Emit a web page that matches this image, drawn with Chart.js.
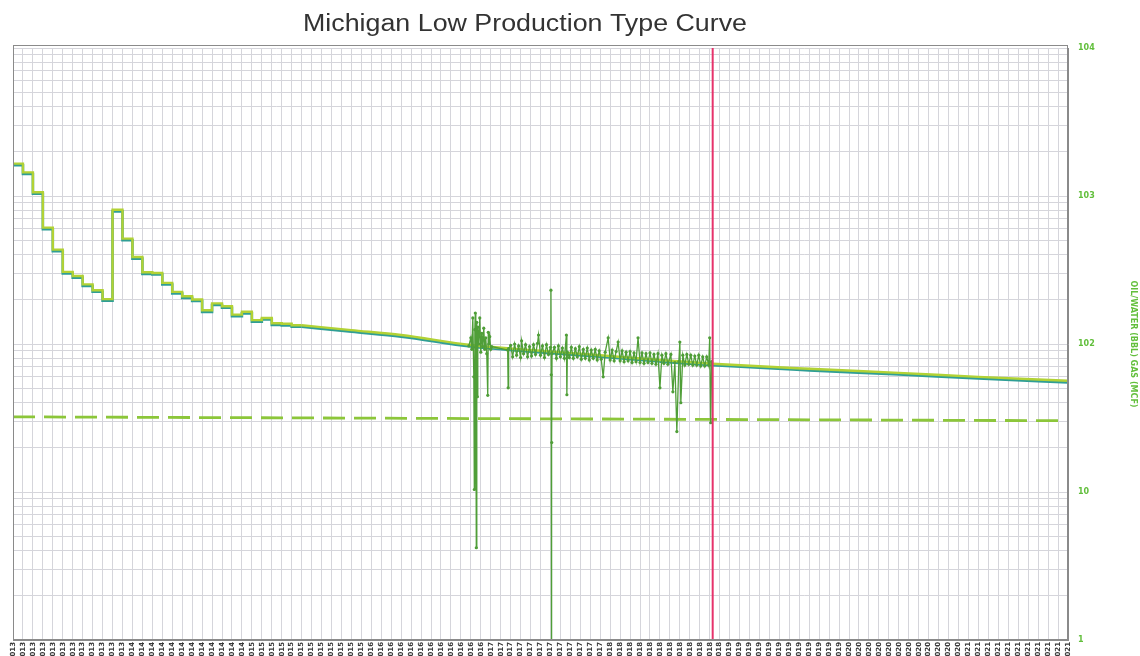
<!DOCTYPE html>
<html>
<head>
<meta charset="utf-8">
<style>
  html, body { margin: 0; padding: 0; background: #ffffff; }
  #wrap { width: 1140px; height: 656px; }
</style>
<script src="https://cdn.jsdelivr.net/npm/chart.js@4/dist/chart.umd.min.js"></script>
</head>
<body>
<div id="wrap"><canvas id="chart" width="1140" height="656"></canvas></div>
<script>
// Month tick labels (one per monthly gridline)
const monthLabels = [
  "01/2013","02/2013","03/2013","04/2013","05/2013","06/2013","07/2013","08/2013","09/2013","10/2013","11/2013","12/2013",
  "01/2014","02/2014","03/2014","04/2014","05/2014","06/2014","07/2014","08/2014","09/2014","10/2014","11/2014","12/2014",
  "01/2015","02/2015","03/2015","04/2015","05/2015","06/2015","07/2015","08/2015","09/2015","10/2015","11/2015","12/2015",
  "01/2016","02/2016","03/2016","04/2016","05/2016","06/2016","07/2016","08/2016","09/2016","10/2016","11/2016","12/2016",
  "01/2017","02/2017","03/2017","04/2017","05/2017","06/2017","07/2017","08/2017","09/2017","10/2017","11/2017","12/2017",
  "01/2018","02/2018","03/2018","04/2018","05/2018","06/2018","07/2018","08/2018","09/2018","10/2018","11/2018","12/2018",
  "01/2019","02/2019","03/2019","04/2019","05/2019","06/2019","07/2019","08/2019","09/2019","10/2019","11/2019","12/2019",
  "01/2020","02/2020","03/2020","04/2020","05/2020","06/2020","07/2020","08/2020","09/2020","10/2020","11/2020","12/2020",
  "01/2021","02/2021","03/2021","04/2021","05/2021","06/2021","07/2021","08/2021","09/2021","10/2021","11/2021"
];
const monthTicks = [
  0,1,2,3,4,5,6,7,8,9,10,11,12,13,14,15,16,17,18,19,20,21,22,23,24,25,26,27,28,29,
  30,31,32,33,34,35,36,37,38,39,40,41,42,43,44,45,46,47,48,49,50,51,52,53,54,55,56,57,58,59,
  60,61,62,63,64,65,66,67,68,69,70,71,72,73,74,75,76,77,78,79,80,81,82,83,84,85,86,87,88,89,
  90,91,92,93,94,95,96,97,98,99,100,101,102,103,104,105,106
];

// Rate axis gridlines (log decades with 2..9 subdivisions) and labels
const rateGrid = [1,2,3,4,5,6,7,8,9,10,20,30,40,50,60,70,80,90,100,200,300,400,500,600,700,800,900,1000,2000,3000,4000,5000,6000,7000,8000,9000,10000];
const rateLabels = { 1: "1", 10: "10", 100: "102", 1000: "103", 10000: "104" };

// Monthly history (stepped)
const histMonths = [0,1,2,3,4,5,6,7,8,9,10,11,12,13,14,15,16,17,18,19,20,21,22,23,24,25,26,27,28,29];
const histRates  = [1655,1445,1061,611,434,307,288,253,231,201,807,515,387,305,302,259,225,210,200,169,188,180,158,165,145,150,138,137,134,134];

// Type curve decline
const typeMonths = [29, 34, 39, 46, 52, 59, 65, 70.3, 80, 89, 97, 106];
const typeRates  = [134, 124, 115, 98.5, 91, 84, 78, 73.6, 68, 63.8, 60, 56.4];

// Daily production readings
const dailyMonths = [
  45.8,46.0,46.1,46.2,46.3,46.35,46.4,46.45,46.5,46.55,46.6,46.65,46.7,46.8,46.9,47.0,47.1,47.2,47.3,47.4,
  47.5,47.6,47.7,47.75,47.8,47.9,48.0,48.1,49.7,49.75,49.8,50.0,50.2,50.4,50.6,50.8,51.0,51.1,51.3,51.5,
  51.7,51.9,52.1,52.3,52.5,52.7,52.8,53.0,53.2,53.4,53.6,53.8,54.0,54.05,54.08,54.1,54.13,54.16,54.4,54.6,
  54.8,55.0,55.2,55.4,55.6,55.65,55.7,55.9,56.1,56.3,56.5,56.7,56.9,57.1,57.3,57.5,57.7,57.9,58.1,58.3,
  58.5,58.7,58.9,59.1,59.3,59.5,59.8,60.0,60.2,60.4,60.6,60.8,61.0,61.2,61.4,61.6,61.8,62.0,62.2,62.4,
  62.6,62.8,63.0,63.2,63.4,63.6,63.8,64.0,64.2,64.4,64.6,64.8,65.0,65.2,65.4,65.6,65.8,66.1,66.3,66.5,
  66.7,66.9,67.0,67.1,67.3,67.5,67.7,67.9,68.1,68.3,68.5,68.7,68.9,69.1,69.3,69.5,69.7,69.9,70.0,70.1,70.2
];
const dailyRates = [
  97,110,92,150,60,10.4,125,162,95,4.2,140,44,130,100,150,88,118,96,128,92,
  110,86,45,120,100,112,92,96,91,50.6,93,98,82,100,84,97,81,105,86,99,
  82,96,83,99,85,101,115,84,97,81,99,85,95,231,62,0.5,21.6,86,95,80,
  97,82,94,80,115,45.4,88,81,95,80,93,82,96,79,92,80,94,78,91,80,
  92,78,90,79,60,88,110,78,91,77,89,103,77,90,76,88,77,89,75,87,
  76,110,75,87,74,86,75,87,74,85,73,86,50.6,84,74,86,73,85,47.5,75,
  25.6,76,103,40.1,84,72,85,73,84,72,83,72,84,71,82,71,82,72,110,29.4,76
];

// Economic limit (dashed) and forecast start marker
const limitMonths = [0, 106];
const limitRates  = [32.2, 30.3];
const forecastStartMonths = [70.3, 70.3];
const forecastStartRates  = [1, 10000];

const pts = (xs, ys) => xs.map((x, i) => ({ x: x, y: ys[i] }));

const TITLE = "Michigan Low Production Type Curve";

// Draws the under-stroke of the curves a little lower so the pair reads as a two-tone line
const underStroke = {
  id: 'underStroke',
  beforeDatasetDraw(chart, args) {
    if (chart.data.datasets[args.index].underStroke) {
      chart.ctx.save();
      chart.ctx.translate(0, 1.6);
    }
  },
  afterDatasetDraw(chart, args) {
    if (chart.data.datasets[args.index].underStroke) chart.ctx.restore();
  }
};

const titleAndFrame = {
  id: 'titleAndFrame',
  afterDraw(chart) {
    const { ctx, chartArea: a } = chart;
    ctx.save();
    ctx.strokeStyle = '#8a8a8a';
    ctx.lineWidth = 1;
    ctx.strokeRect(Math.round(a.left) + 0.5, Math.round(a.top) - 2.5,
                   Math.round(a.right - a.left) - 1, Math.round(a.bottom - a.top) + 2);
    ctx.fillStyle = '#333333';
    ctx.font = '23px "Liberation Sans", Arial, sans-serif';
    ctx.textBaseline = 'middle';
    ctx.textAlign = 'left';
    const w = ctx.measureText(TITLE).width;
    const target = 444;
    ctx.translate(303, 25);
    ctx.scale(target / w, 1);
    ctx.fillText(TITLE, 0, 0);
    ctx.restore();
  }
};

new Chart(document.getElementById('chart'), {
  type: 'line',
  data: {
    datasets: [
      { label: 'Forecast start', data: pts(forecastStartMonths, forecastStartRates),
        borderColor: '#e6336b', borderWidth: 2, pointRadius: 0, order: 0 },
      { label: 'Daily', data: pts(dailyMonths, dailyRates),
        borderColor: '#4f9e38', backgroundColor: '#4f9e38', borderWidth: 1.3,
        pointRadius: 1.6, pointBorderWidth: 0, order: 1 },
      { label: 'History', data: pts(histMonths, histRates), stepped: true,
        borderColor: '#b2d235', borderWidth: 2.4, pointRadius: 0, order: 2 },
      { label: 'Type curve', data: pts(typeMonths, typeRates), cubicInterpolationMode: 'monotone',
        borderColor: '#b2d235', borderWidth: 2.4, pointRadius: 0, order: 2 },
      { label: 'History base', data: pts(histMonths, histRates), stepped: true, underStroke: true,
        borderColor: '#2f9e96', borderWidth: 2.6, pointRadius: 0, order: 3 },
      { label: 'Type curve base', data: pts(typeMonths, typeRates), cubicInterpolationMode: 'monotone', underStroke: true,
        borderColor: '#2f9e96', borderWidth: 2.6, pointRadius: 0, order: 3 },
      { label: 'Economic limit', data: pts(limitMonths, limitRates),
        borderColor: '#8cc63a', borderWidth: 2.8, borderDash: [22, 9], pointRadius: 0, order: 4 }
    ]
  },
  options: {
    responsive: false,
    animation: false,
    devicePixelRatio: 1,
    layout: { padding: { left: 13, top: 48, right: 0, bottom: 0 } },
    plugins: { legend: { display: false }, tooltip: { enabled: false }, title: { display: false } },
    scales: {
      x: {
        type: 'linear', position: 'bottom', min: 0, max: 106,
        afterBuildTicks: s => { s.ticks = monthTicks.map(v => ({ value: v })); },
        afterFit: s => { s.height = 16; },
        grid: { color: '#d5d5db', lineWidth: 1, drawTicks: false },
        border: { display: true, color: '#8a8a8a' },
        ticks: {
          autoSkip: false, maxRotation: 90, minRotation: 90, padding: 2,
          color: '#383838', font: { size: 7, weight: 'bold', family: 'DejaVu Sans' },
          callback: v => monthLabels[v] ?? ''
        }
      },
      y: {
        type: 'logarithmic', position: 'right', min: 1, max: 10000,
        afterBuildTicks: s => { s.ticks = rateGrid.map(v => ({ value: v })); },
        afterFit: s => { s.width = 72; },
        grid: { color: '#d5d5db', lineWidth: 1, drawTicks: false },
        border: { display: true, color: '#8a8a8a' },
        ticks: {
          padding: 10, color: '#62bf3c', font: { size: 8, weight: 'bold', family: 'DejaVu Sans' },
          callback: v => rateLabels[v] ?? ''
        },
        title: {
          display: true, text: 'OIL/WATER (BBL) GAS (MCF)', color: '#62bf3c',
          font: { size: 8, weight: 'bold', family: 'DejaVu Sans' }, padding: 2
        }
      }
    }
  },
  plugins: [underStroke, titleAndFrame]
});
</script>
</body>
</html>
